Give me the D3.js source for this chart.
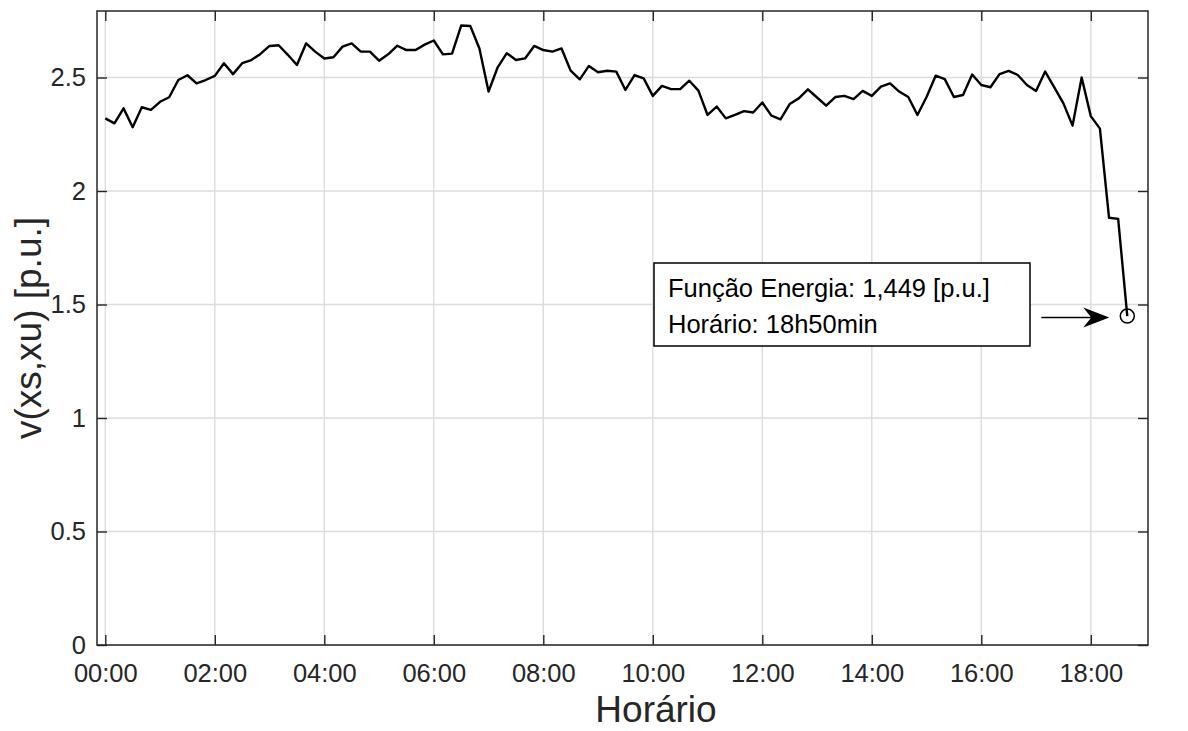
<!DOCTYPE html>
<html>
<head>
<meta charset="utf-8">
<script src="https://cdn.jsdelivr.net/npm/d3@7"></script>
<style>
  html, body { margin: 0; padding: 0; background: #fff; }
  text { font-family: "Liberation Sans", Arial, Helvetica, sans-serif; }
</style>
</head>
<body>
<svg id="chart" width="1188" height="731"></svg>
<script>
// ---- data (10-minute samples starting at 00:00) ----
const sampleStepMin = 10;
const energyValues = [
  2.320, 2.298, 2.364, 2.281, 2.369, 2.357, 2.393, 2.413, 2.489, 2.510,
  2.474, 2.489, 2.507, 2.563, 2.515, 2.563, 2.577, 2.604, 2.639, 2.642,
  2.600, 2.555, 2.650, 2.614, 2.584, 2.589, 2.636, 2.650, 2.614, 2.614,
  2.574, 2.602, 2.640, 2.621, 2.621, 2.645, 2.663, 2.602, 2.605, 2.729,
  2.727, 2.628, 2.438, 2.545, 2.607, 2.577, 2.584, 2.639, 2.621, 2.614,
  2.628, 2.530, 2.492, 2.551, 2.523, 2.530, 2.526, 2.445, 2.511, 2.496,
  2.419, 2.463, 2.449, 2.449, 2.486, 2.442, 2.335, 2.372, 2.320, 2.335,
  2.352, 2.346, 2.390, 2.332, 2.316, 2.383, 2.408, 2.448, 2.412, 2.376,
  2.414, 2.419, 2.405, 2.441, 2.419, 2.460, 2.474, 2.438, 2.414, 2.335,
  2.414, 2.508, 2.493, 2.414, 2.423, 2.513, 2.467, 2.457, 2.515, 2.529,
  2.511, 2.467, 2.441, 2.526, 2.457, 2.386, 2.288, 2.500, 2.330, 2.275,
  1.882, 1.877, 1.449
];
const xTickMinutes = [0, 120, 240, 360, 480, 600, 720, 840, 960, 1080];
const xTickLabels = ["00:00","02:00","04:00","06:00","08:00","10:00","12:00","14:00","16:00","18:00"];
const yTickValues = [0, 0.5, 1, 1.5, 2, 2.5];
const yTickLabels = ["0","0.5","1","1.5","2","2.5"];
const xLabel = "Horário";
const yLabel = "v(xs,xu) [p.u.]";
const annotationLines = ["Função Energia: 1,449 [p.u.]", "Horário: 18h50min"];

const points = energyValues.map((v, i) => ({ t: i * sampleStepMin, v }));

// ---- layout ----
const plotL = 97, plotR = 1148, plotT = 11, plotB = 645;
const axisColor = "#262626";
const gridColor = "#dcdcdc";
const tickLen = 10;

const x = d3.scaleLinear().domain([-9.1, 1142.7]).range([plotL, plotR]);
const y = d3.scaleLinear().domain([0, 2.793]).range([plotB, plotT]);

const svg = d3.select("#chart");
svg.append("rect").attr("width", 1188).attr("height", 731).attr("fill", "#fff");

// grid
const grid = svg.append("g");
grid.selectAll("line.vx").data(xTickMinutes).enter().append("line")
  .attr("x1", d => x(d)).attr("x2", d => x(d))
  .attr("y1", plotT).attr("y2", plotB)
  .attr("stroke", gridColor).attr("stroke-width", 1.4);
grid.selectAll("line.hy").data(yTickValues).enter().append("line")
  .attr("x1", plotL).attr("x2", plotR)
  .attr("y1", d => y(d)).attr("y2", d => y(d))
  .attr("stroke", gridColor).attr("stroke-width", 1.4);

// axes via d3 axes (inner ticks)
const xAxisBottom = d3.axisBottom(x).tickValues(xTickMinutes)
  .tickFormat((d, i) => xTickLabels[i]).tickSizeInner(-tickLen).tickSizeOuter(0).tickPadding(19);
const xAxisTop = d3.axisTop(x).tickValues(xTickMinutes).tickFormat("").tickSizeInner(-tickLen).tickSizeOuter(0);
const yAxisLeft = d3.axisLeft(y).tickValues(yTickValues)
  .tickFormat((d, i) => yTickLabels[i]).tickSizeInner(-tickLen).tickSizeOuter(0).tickPadding(11);
const yAxisRight = d3.axisRight(y).tickValues(yTickValues).tickFormat("").tickSizeInner(-tickLen).tickSizeOuter(0);

function styleAxis(g) {
  g.select(".domain").remove();
  g.selectAll(".tick line").attr("stroke", axisColor).attr("stroke-width", 1.4);
  g.selectAll(".tick text").attr("fill", axisColor).attr("font-size", 25.5)
    .attr("font-family", "'Liberation Sans', Arial, sans-serif");
}
svg.append("g").attr("transform", `translate(0,${plotB})`).call(xAxisBottom).call(styleAxis);
svg.append("g").attr("transform", `translate(0,${plotT})`).call(xAxisTop).call(styleAxis);
svg.append("g").attr("transform", `translate(${plotL},0)`).call(yAxisLeft).call(styleAxis);
svg.append("g").attr("transform", `translate(${plotR},0)`).call(yAxisRight).call(styleAxis);

// box
svg.append("rect").attr("x", plotL).attr("y", plotT)
  .attr("width", plotR - plotL).attr("height", plotB - plotT)
  .attr("fill", "none").attr("stroke", axisColor).attr("stroke-width", 1.5);

// data line
const line = d3.line().x(d => x(d.t)).y(d => y(d.v));
svg.append("path").datum(points).attr("d", line)
  .attr("fill", "none").attr("stroke", "#000").attr("stroke-width", 2.4)
  .attr("stroke-linejoin", "round");

// axis labels
svg.append("text").attr("x", 656).attr("y", 722).attr("text-anchor", "middle")
  .attr("font-size", 37).attr("fill", axisColor).text(xLabel);
svg.append("text").attr("transform", `translate(41,${(plotT + plotB) / 2}) rotate(-90)`)
  .attr("text-anchor", "middle").attr("font-size", 37).attr("fill", axisColor).text(yLabel);

// annotation
const last = points[points.length - 1];
const cx = x(last.t), cy = y(last.v);
svg.append("circle").attr("cx", cx).attr("cy", cy).attr("r", 7)
  .attr("fill", "none").attr("stroke", "#000").attr("stroke-width", 1.5);

const tipX = cx - 18, tailX = cx - 86, ay = cy + 1.5;
svg.append("line").attr("x1", tailX).attr("x2", tipX - 10).attr("y1", ay).attr("y2", ay)
  .attr("stroke", "#000").attr("stroke-width", 1.5);
svg.append("path")
  .attr("d", `M${tipX},${ay} L${tipX - 26},${ay - 10} L${tipX - 18},${ay} L${tipX - 26},${ay + 10} Z`)
  .attr("fill", "#000");

svg.append("rect").attr("x", 654).attr("y", 263).attr("width", 376).attr("height", 83)
  .attr("fill", "#fff").attr("stroke", "#000").attr("stroke-width", 1.5);
svg.selectAll("text.ann").data(annotationLines).enter().append("text")
  .attr("class", "ann")
  .attr("x", 668).attr("y", (d, i) => 297 + i * 36)
  .attr("font-size", 25.5).attr("fill", "#000").text(d => d);
</script>
</body>
</html>
